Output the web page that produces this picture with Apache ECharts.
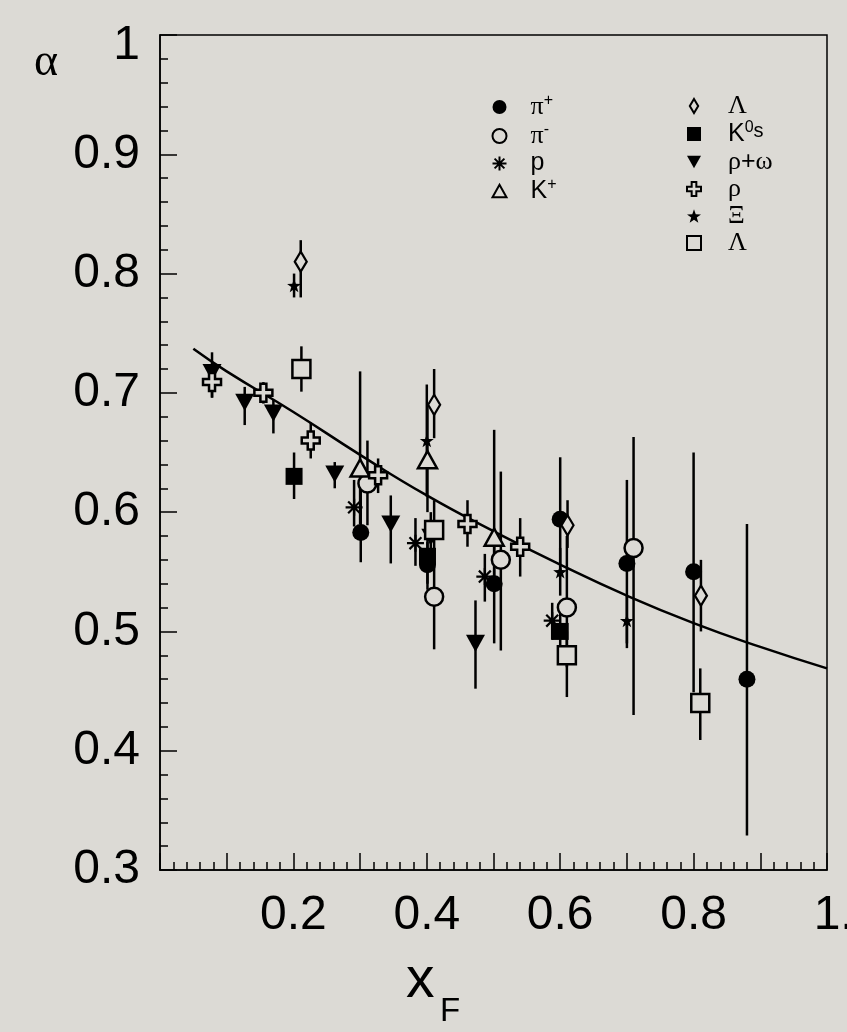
<!DOCTYPE html>
<html>
<head>
<meta charset="utf-8">
<script src="https://cdn.jsdelivr.net/npm/echarts@6/dist/echarts.min.js"></script>
<style>
html,body{margin:0;padding:0;background:#dcdad5;}
#c{width:847px;height:1032px;}
</style>
</head>
<body>
<div id="c"></div>
<script>
// ---- data: [xF, alpha, errLow, errHigh] ----
const piPlus  = [[0.301,0.583,0.558,0.620],[0.401,0.556,0.535,0.575],[0.501,0.540,0.490,0.575],[0.600,0.594,0.550,0.646],[0.700,0.557,0.486,0.627],[0.800,0.550,0.449,0.650],[0.880,0.460,0.329,0.590]];
const piMinus = [[0.311,0.624,0.589,0.660],[0.411,0.529,0.485,0.570],[0.511,0.560,0.484,0.634],[0.610,0.520,0.470,0.580],[0.710,0.570,0.430,0.663]];
const proton  = [[0.291,0.604,0.588,0.627],[0.383,0.574,0.555,0.595],[0.487,0.546,0.525,0.565],[0.588,0.509,0.493,0.524]];
const kPlus   = [[0.300,0.637,0.590,0.718],[0.401,0.644,0.600,0.690],[0.501,0.579,0.540,0.669]];
const lambdaD = [[0.211,0.810,0.780,0.828],[0.411,0.690,0.662,0.720],[0.611,0.589,0.570,0.610],[0.811,0.530,0.500,0.560]];
const k0s     = [[0.201,0.630,0.611,0.650],[0.401,0.563,0.540,0.585],[0.600,0.500,0.485,0.515]];
const rhoOmega= [[0.078,0.717,0.696,0.734],[0.127,0.692,0.673,0.705],[0.170,0.683,0.666,0.694],[0.262,0.632,0.620,0.642],[0.346,0.590,0.557,0.614],[0.406,0.579,0.560,0.600],[0.473,0.490,0.452,0.526]];
const rho     = [[0.078,0.709,0.696,0.720],[0.155,0.700,0.691,0.709],[0.226,0.660,0.645,0.675],[0.327,0.631,0.616,0.645],[0.461,0.590,0.571,0.610],[0.540,0.571,0.546,0.595]];
const xi      = [[0.201,0.790,0.780,0.800],[0.400,0.660,0.613,0.707],[0.600,0.550,0.530,0.570],[0.700,0.509,0.490,0.530]];
const lambdaS = [[0.212,0.720,0.701,0.739],[0.411,0.585,0.560,0.610],[0.610,0.480,0.445,0.500],[0.810,0.440,0.409,0.469]];
// fitted curve
const fitX = [0.05,0.1,0.2,0.3,0.4,0.5,0.6,0.7,0.8,0.9,1.0];
const fitY = [0.737,0.718,0.684,0.648,0.614,0.584,0.556,0.530,0.507,0.487,0.469];
// tick labels
const xTickLabels = {'0.2':'0.2','0.4':'0.4','0.6':'0.6','0.8':'0.8','1.0':'{r|1.0}'};
const yTickLabels = {'0.3':'0.3','0.4':'0.4','0.5':'0.5','0.6':'0.6','0.7':'0.7','0.8':'0.8','0.9':'0.9','1.0':'{top|1}'};
const legendCol1 = ['π+','π-','p','K+'];
const legendCol2 = ['Λ','K0s','ρ+ω','ρ','Ξ','Λ2'];

const BG = '#dcdad5';
const BLACK = '#000';
const openStyle = {color: BG, borderColor: BLACK, borderWidth: 2.5, opacity:1};
const fillStyle = {color: BLACK, borderColor: BLACK, borderWidth: 0, opacity:1};

const STAR = 'path://M0,-10 L2.35,-3.24 L9.51,-3.09 L3.80,1.24 L5.88,8.09 L0,4 L-5.88,8.09 L-3.80,1.24 L-9.51,-3.09 L-2.35,-3.24 Z';
const CROSS = 'path://M-3,-9 L3,-9 L3,-3 L9,-3 L9,3 L3,3 L3,9 L-3,9 L-3,3 L-9,3 L-9,-3 L-3,-3 Z';
const DIAMOND = 'path://M0,-10 L6,0 L0,10 L-6,0 Z';
const ASTER = 'path://M0,-10 L0,10 M-10,0 L10,0 M-7,-7 L7,7 M-7,7 L7,-7';
const SQUARE = 'path://M-10,-10 L10,-10 L10,10 L-10,10 Z';
const TRI = 'path://M0,-10 L10,8 L-10,8 Z';
const TRI_DOWN = 'path://M0,10 L10,-8 L-10,-8 Z';

const specs = [
  {name:'π+', data:piPlus, symbol:'circle', size:17, style:fillStyle},
  {name:'π-', data:piMinus, symbol:'circle', size:18, style:openStyle},
  {name:'p', data:proton, symbol:ASTER, size:17, style:{color:'none', borderColor:BLACK, borderWidth:2.2, opacity:1}},
  {name:'K+', data:kPlus, symbol:TRI, size:19, style:openStyle},
  {name:'Λ', data:lambdaD, symbol:DIAMOND, size:20, style:{color:BG, borderColor:BLACK, borderWidth:2.2, opacity:1}},
  {name:'K0s', data:k0s, symbol:SQUARE, size:17, style:fillStyle},
  {name:'ρ+ω', data:rhoOmega, symbol:TRI_DOWN, size:19, style:fillStyle},
  {name:'ρ', data:rho, symbol:CROSS, size:18, style:openStyle},
  {name:'Ξ', data:xi, symbol:STAR, size:14, style:fillStyle},
  {name:'Λ2', data:lambdaS, symbol:SQUARE, size:18, style:openStyle}
];

const errData = [];
specs.forEach(s => s.data.forEach(d => errData.push([d[0], d[2], d[3]])));

const series = [{
  type:'custom', name:'err', silent:true, z:2,
  data: errData,
  encode:{x:0, y:[1,2]},
  renderItem: function(params, api){
    const p1 = api.coord([api.value(0), api.value(1)]);
    const p2 = api.coord([api.value(0), api.value(2)]);
    return {type:'line', shape:{x1:p1[0], y1:p1[1], x2:p2[0], y2:p2[1]}, style:{stroke:BLACK, lineWidth:2.5}};
  }
},{
  type:'line', name:'fit', silent:true, z:3, smooth:true, showSymbol:false, symbol:'none',
  data: fitX.map((x,i)=>[x, fitY[i]]),
  lineStyle:{color:BLACK, width:2.5}
}];
specs.forEach(s => series.push({
  type:'scatter', name:s.name, z:4, silent:true,
  symbol:s.symbol, symbolSize:s.size, symbolKeepAspect:true,
  data: s.data.map(d=>[d[0], d[1]]),
  itemStyle: s.style,
  emphasis:{disabled:true}
}));

const legendText = {
  'π+':'{g|π}{sup|+}', 'π-':'{g|π}{sup|-}', 'p':'{s|p}', 'K+':'{s|K}{sup|+}',
  'Λ':'{g|Λ}', 'K0s':'{s|K}{sup|0}{sm|s}', 'ρ+ω':'{g|ρ}{s|+}{g|ω}', 'ρ':'{g|ρ}', 'Ξ':'{g|Ξ}', 'Λ2':'{g|Λ}'
};
function mkRich(pad){
  return {
    pad:{width:pad, lineHeight:22},
    g:{fontFamily:'Liberation Serif', fontSize:26, color:BLACK, lineHeight:22},
    s:{fontFamily:'Liberation Sans', fontSize:25, color:BLACK, lineHeight:22},
    sup:{fontFamily:'Liberation Sans', fontSize:16, color:BLACK, lineHeight:10, padding:[0,0,12,0]},
    sm:{fontFamily:'Liberation Sans', fontSize:20, color:BLACK, lineHeight:16, padding:[0,0,6,0]}
  };
}
function mkLegend(names, left, pad){
  return {
    data:names, orient:'vertical', left:left, top:93, padding:0,
    itemWidth:14, itemHeight:14, itemGap:1.0, selectedMode:false,
    formatter: n => '{pad|}' + legendText[n],
    textStyle:{rich:mkRich(pad)}
  };
}

const chart = echarts.init(document.getElementById('c'), null, {renderer:'canvas'});
chart.setOption({
  backgroundColor: BG,
  animation:false,
  grid:{left:160, right:20, top:35, bottom:162, show:true, borderColor:BLACK, borderWidth:1.5, backgroundColor:'transparent', outerBoundsMode:'none', containLabel:false},
  legend:[mkLegend(legendCol1, 490, 19), mkLegend(legendCol2, 686, 22)],
  xAxis:{
    type:'value', min:0, max:1, interval:0.1,
    axisLine:{show:true, onZero:false, lineStyle:{color:BLACK, width:1.5}},
    axisTick:{show:true, inside:true, length:17, lineStyle:{color:BLACK, width:1.5}},
    minorTick:{show:true, splitNumber:5, length:8, lineStyle:{color:BLACK, width:1.5}},
    splitLine:{show:false},
    axisLabel:{
      color:BLACK, fontFamily:'Liberation Sans', fontSize:48, margin:22, showMaxLabel:true, hideOverlap:false,
      formatter: v => xTickLabels[v.toFixed(1)] || '',
      rich:{r:{fontFamily:'Liberation Sans', fontSize:48, color:BLACK, padding:[0,0,0,40]}}
    }
  },
  yAxis:{
    type:'value', min:0.3, max:1, interval:0.1,
    axisLine:{show:true, onZero:false, lineStyle:{color:BLACK, width:1.5}},
    axisTick:{show:true, inside:true, length:17, lineStyle:{color:BLACK, width:1.5}},
    minorTick:{show:true, splitNumber:5, length:8, lineStyle:{color:BLACK, width:1.5}},
    splitLine:{show:false},
    axisLabel:{
      color:BLACK, fontFamily:'Liberation Sans', fontSize:48, margin:20, showMaxLabel:true, showMinLabel:true,
      formatter: v => yTickLabels[v.toFixed(1)] || '',
      rich:{top:{fontFamily:'Liberation Sans', fontSize:48, color:BLACK, padding:[22,0,0,0]}}
    }
  },
  graphic:[
    {type:'text', left:34, top:40, style:{text:'α', font:'46px "Liberation Serif"', fill:BLACK}},
    {type:'text', left:406, top:953, style:{text:'x', font:'57px "Liberation Sans"', fill:BLACK}},
    {type:'text', left:440, top:995, style:{text:'F', font:'33px "Liberation Sans"', fill:BLACK}}
  ],
  series: series
});
</script>
</body>
</html>
